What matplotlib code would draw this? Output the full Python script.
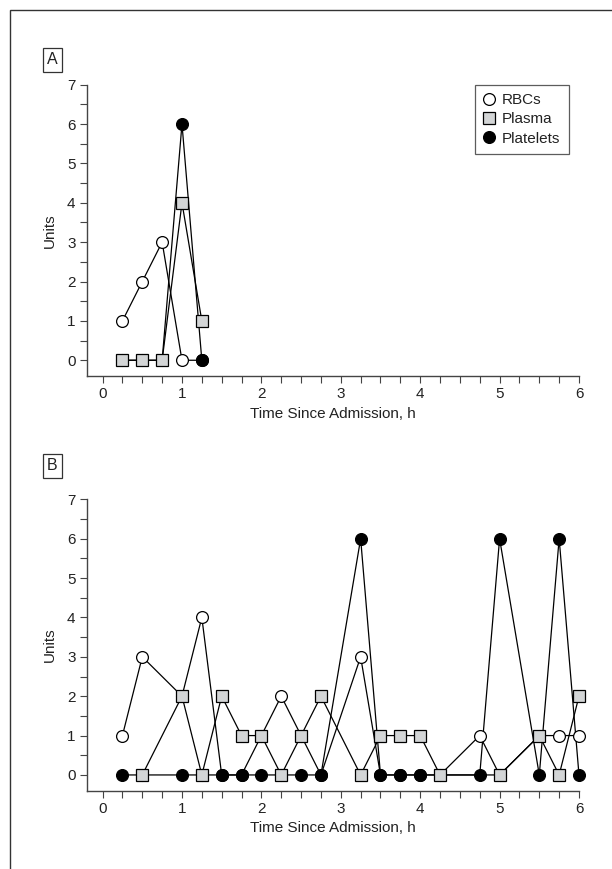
import matplotlib
matplotlib.use("Agg")
import matplotlib.pyplot as plt
from matplotlib.lines import Line2D
from matplotlib.patches import Rectangle
from matplotlib.ticker import MultipleLocator

plt.rcParams['font.family'] = ['Liberation Sans Narrow', 'Liberation Sans', 'DejaVu Sans']

# ---- Panel A data ----
rbc_a_t = [0.25, 0.5, 0.75, 1.0, 1.25]
rbc_a = [1, 2, 3, 0, 0]
plasma_a_t = [0.25, 0.5, 0.75, 1.0, 1.25]
plasma_a = [0, 0, 0, 4, 1]
plt_a_t = [0.25, 0.5, 0.75, 1.0, 1.25]
plt_a = [0, 0, 0, 6, 0]

# ---- Panel B data ----
rbc_b_t = [0.25, 0.5, 1.0, 1.25, 1.5, 1.75, 2.0, 2.25, 2.5, 2.75, 3.25, 3.5,
           3.75, 4.0, 4.25, 4.75, 5.0, 5.5, 5.75, 6.0]
rbc_b = [1, 3, 2, 4, 0, 0, 1, 2, 1, 0, 3, 0, 0, 0, 0, 1, 0, 1, 1, 1]
plasma_b_t = [0.5, 1.0, 1.25, 1.5, 1.75, 2.0, 2.25, 2.5, 2.75, 3.25, 3.5,
              3.75, 4.0, 4.25, 5.0, 5.5, 5.75, 6.0]
plasma_b = [0, 2, 0, 2, 1, 1, 0, 1, 2, 0, 1, 1, 1, 0, 0, 1, 0, 2]
plt_b_t = [0.25, 0.5, 1.0, 1.25, 1.5, 1.75, 2.0, 2.25, 2.5, 2.75, 3.25, 3.5,
           3.75, 4.0, 4.25, 4.75, 5.0, 5.5, 5.75, 6.0]
plt_b = [0, 0, 0, 0, 0, 0, 0, 0, 0, 0, 6, 0, 0, 0, 0, 0, 6, 0, 6, 0]

series_labels = ["RBCs", "Plasma", "Platelets"]
x_label = "Time Since Admission, h"
y_label = "Units"
panel_letters = ["A", "B"]

SPINE = "#444444"
TEXT = "#222222"
PLASMA_FILL = "#d3d5d6"
MS = 8.5

fig = plt.figure(figsize=(6.12, 8.69), dpi=100)

# outer frame (left and top edges visible)
fig.patches.append(Rectangle((9.8 / 612, -0.1), 1.2, 1 - 10.0 / 869 + 0.1,
                             transform=fig.transFigure, fill=False,
                             edgecolor="#333333", linewidth=1.0))

styles = {
    "rbc": dict(marker="o", mfc="white", z=3),
    "plasma": dict(marker="s", mfc=PLASMA_FILL, z=5),
    "plt": dict(marker="o", mfc="black", z=4),
}


def draw_panel(ax, data):
    for key, (t, v) in data.items():
        s = styles[key]
        ax.plot(t, v, color="black", lw=0.9, zorder=2, clip_on=False)
        ax.plot(t, v, linestyle="none", marker=s["marker"], mfc=s["mfc"],
                mec="black", ms=MS, mew=0.9, zorder=s["z"], clip_on=False)
    ax.set_xlim(-0.2, 6)
    ax.set_ylim(-0.4, 7)
    ax.xaxis.set_major_locator(MultipleLocator(1))
    ax.xaxis.set_minor_locator(MultipleLocator(0.25))
    ax.yaxis.set_major_locator(MultipleLocator(1))
    ax.yaxis.set_minor_locator(MultipleLocator(0.5))
    for sp in ["top", "right"]:
        ax.spines[sp].set_visible(False)
    for sp in ["left", "bottom"]:
        ax.spines[sp].set_color(SPINE)
        ax.spines[sp].set_linewidth(1.0)
    ax.tick_params(which="both", direction="out", color=SPINE, width=0.8,
                   labelsize=11, labelcolor=TEXT)
    ax.tick_params(which="major", length=5, pad=3)
    ax.tick_params(which="minor", length=5)
    ax.set_xlabel(x_label, fontsize=11, color=TEXT, labelpad=4)
    ax.set_ylabel(y_label, fontsize=11, color=TEXT, labelpad=7)
    ax.patch.set_visible(False)


left = 86.7 / 612
width = (579 - 86.7) / 612
axA = fig.add_axes([left, 1 - 376 / 869, width, (376 - 84.7) / 869])
axB = fig.add_axes([left, 1 - 790.7 / 869, width, (790.7 - 499.3) / 869])

draw_panel(axA, {"rbc": (rbc_a_t, rbc_a), "plasma": (plasma_a_t, plasma_a),
                 "plt": (plt_a_t, plt_a)})
draw_panel(axB, {"rbc": (rbc_b_t, rbc_b), "plasma": (plasma_b_t, plasma_b),
                 "plt": (plt_b_t, plt_b)})

# panel letters
for letter, ypix in zip(panel_letters, [60, 466]):
    fig.text(52.5 / 612, 1 - ypix / 869, letter, ha="center", va="center",
             fontsize=11.5, color=TEXT,
             bbox=dict(boxstyle="square,pad=0.28", fc="white", ec="#333333", lw=0.9))

# legend
handles = [
    Line2D([], [], linestyle="none", marker="o", mfc="white", mec="black", ms=MS, mew=0.9),
    Line2D([], [], linestyle="none", marker="s", mfc=PLASMA_FILL, mec="black", ms=MS, mew=0.9),
    Line2D([], [], linestyle="none", marker="o", mfc="black", mec="black", ms=MS, mew=0.9),
]
leg = axA.legend(handles, series_labels, loc="upper right",
                 bbox_to_anchor=((569 - 86.7) / (579 - 86.7), 1.0),
                 frameon=True, fancybox=False, edgecolor="#333333",
                 fontsize=11, handlelength=0.8, handletextpad=0.45,
                 borderpad=0.55, labelspacing=0.35, borderaxespad=0)
leg.get_frame().set_linewidth(0.9)
for txt in leg.get_texts():
    txt.set_color(TEXT)

fig.savefig("out.png", dpi=100)
